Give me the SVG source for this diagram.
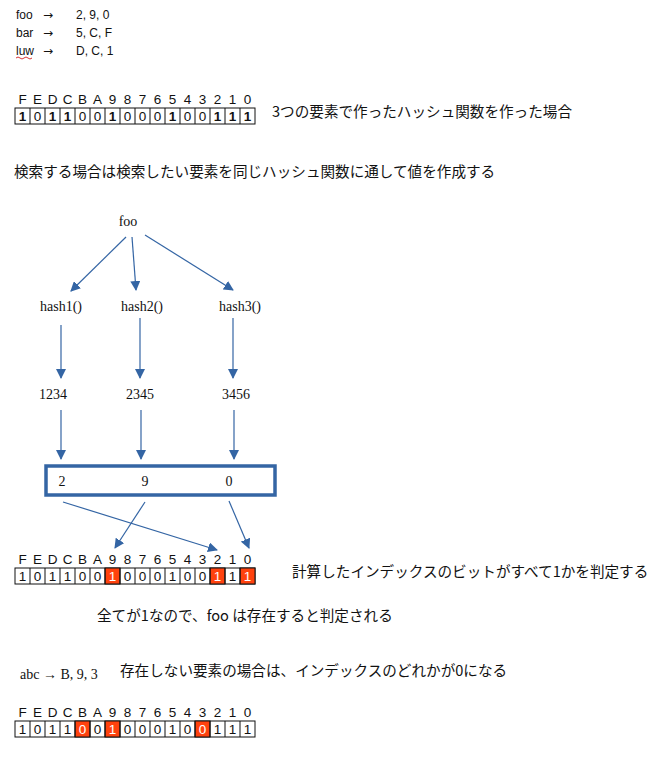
<svg xmlns="http://www.w3.org/2000/svg" width="671" height="757" viewBox="0 0 671 757">
<style>
.s{font-family:"Liberation Sans",Arial,sans-serif;font-size:12px;fill:#111}
.ar{font-family:"DejaVu Sans",sans-serif;font-size:12px;fill:#111}
.j{font-family:"Noto Sans CJK JP",sans-serif;font-size:14.6px;fill:#111}
.r{font-family:"Liberation Serif","Times New Roman",serif;font-size:14px;fill:#111}
.rm{font-family:"Liberation Serif","Times New Roman",serif;font-size:14px;fill:#111;text-anchor:middle}
.c{fill:#fff;stroke:#111;stroke-width:1}
.red{fill:#ff420e;stroke:#111;stroke-width:1}
.ln{stroke:#3465a4;stroke-width:1.2;fill:none;marker-end:url(#a)}
.w{fill:#fff}
</style>
<defs><marker id="a" markerWidth="10" markerHeight="10" refX="9" refY="5" orient="auto" markerUnits="userSpaceOnUse"><path d="M0,0 L10,5 L0,10 z" fill="#3465a4"/></marker></defs>
<g id="mapping">
<text class="s" x="16" y="19">foo</text><text class="ar" x="43" y="19">→</text><text class="s" x="76" y="19">2, 9, 0</text>
<text class="s" x="16" y="37">bar</text><text class="ar" x="43" y="37">→</text><text class="s" x="76" y="37">5, C, F</text>
<text class="s" x="16" y="55">luw</text><text class="ar" x="43" y="55">→</text><text class="s" x="76" y="55">D, C, 1</text>
<path d="M16,58 q2,-2 4,0 t4,0 t4,0 t4,0" stroke="#c00" stroke-width="0.8" fill="none"/>
</g>
<g id="row1">
<g font-family="Liberation Sans,Arial,sans-serif" font-size="13.5" text-anchor="middle" fill="#111">
<text x="22.5" y="104">F</text><text x="37.5" y="104">E</text><text x="52.5" y="104">D</text><text x="67.5" y="104">C</text><text x="82.5" y="104">B</text><text x="97.5" y="104">A</text><text x="112.5" y="104">9</text><text x="127.5" y="104">8</text><text x="142.5" y="104">7</text><text x="157.5" y="104">6</text><text x="172.5" y="104">5</text><text x="187.5" y="104">4</text><text x="202.5" y="104">3</text><text x="217.5" y="104">2</text><text x="232.5" y="104">1</text><text x="247.5" y="104">0</text>
</g>
<rect class="c" x="15" y="108" width="240" height="16"/>
<path d="M30,108v16M45,108v16M60,108v16M75,108v16M90,108v16M105,108v16M120,108v16M135,108v16M150,108v16M165,108v16M180,108v16M195,108v16M210,108v16M225,108v16M240,108v16" stroke="#111"/>
<g font-family="Liberation Sans,Arial,sans-serif" font-size="13.5" text-anchor="middle" fill="#111">
<text x="22.5" y="121" font-weight="bold">1</text><text x="37.5" y="121">0</text><text x="52.5" y="121" font-weight="bold">1</text><text x="67.5" y="121" font-weight="bold">1</text><text x="82.5" y="121">0</text><text x="97.5" y="121">0</text><text x="112.5" y="121" font-weight="bold">1</text><text x="127.5" y="121">0</text><text x="142.5" y="121">0</text><text x="157.5" y="121">0</text><text x="172.5" y="121" font-weight="bold">1</text><text x="187.5" y="121">0</text><text x="202.5" y="121">0</text><text x="217.5" y="121" font-weight="bold">1</text><text x="232.5" y="121" font-weight="bold">1</text><text x="247.5" y="121" font-weight="bold">1</text>
</g>
<text class="j" x="272" y="117">3つの要素で作ったハッシュ関数を作った場合</text>
</g>
<text class="j" x="14" y="177">検索する場合は検索したい要素を同じハッシュ関数に通して値を作成する</text>
<g id="foo"><text class="rm" x="128" y="226">foo</text></g>
<g id="hash1"><text class="rm" x="61" y="311">hash1()</text></g>
<g id="hash2"><text class="rm" x="142" y="311">hash2()</text></g>
<g id="hash3"><text class="rm" x="240" y="311">hash3()</text></g>
<g id="v1"><text class="rm" x="53" y="399">1234</text></g>
<g id="v2"><text class="rm" x="140" y="399">2345</text></g>
<g id="v3"><text class="rm" x="236" y="399">3456</text></g>
<g id="box">
<rect x="46" y="466" width="229" height="29" fill="#fff" stroke="#3465a4" stroke-width="3.5"/>
<text class="rm" x="62" y="486">2</text><text class="rm" x="145" y="486">9</text><text class="rm" x="229" y="486">0</text>
</g>
<g id="connectors">
<line class="ln" x1="126" y1="237" x2="71" y2="291"/>
<line class="ln" x1="132" y1="237" x2="136" y2="290"/>
<line class="ln" x1="145" y1="235" x2="233" y2="290"/>
<line class="ln" x1="61" y1="325" x2="61" y2="378"/>
<line class="ln" x1="140" y1="318" x2="140" y2="378"/>
<line class="ln" x1="233" y1="318" x2="233" y2="378"/>
<line class="ln" x1="61" y1="410" x2="61" y2="459"/>
<line class="ln" x1="141" y1="410" x2="141" y2="459"/>
<line class="ln" x1="234" y1="410" x2="234" y2="459"/>
<line class="ln" x1="63" y1="502" x2="217" y2="550"/>
<line class="ln" x1="145" y1="502" x2="115" y2="548"/>
<line class="ln" x1="229" y1="501" x2="249" y2="548"/>
</g>
<g id="row2">
<g font-family="Liberation Sans,Arial,sans-serif" font-size="13.5" text-anchor="middle" fill="#111">
<text x="22.5" y="564">F</text><text x="37.5" y="564">E</text><text x="52.5" y="564">D</text><text x="67.5" y="564">C</text><text x="82.5" y="564">B</text><text x="97.5" y="564">A</text><text x="112.5" y="564">9</text><text x="127.5" y="564">8</text><text x="142.5" y="564">7</text><text x="157.5" y="564">6</text><text x="172.5" y="564">5</text><text x="187.5" y="564">4</text><text x="202.5" y="564">3</text><text x="217.5" y="564">2</text><text x="232.5" y="564">1</text><text x="247.5" y="564">0</text>
</g>
<rect class="c" x="15" y="568" width="240" height="16"/>
<rect class="red" x="105" y="568" width="15" height="16"/><rect class="red" x="210" y="568" width="15" height="16"/><rect class="red" x="240" y="568" width="15" height="16"/>
<path d="M30,568v16M45,568v16M60,568v16M75,568v16M90,568v16M105,568v16M120,568v16M135,568v16M150,568v16M165,568v16M180,568v16M195,568v16M210,568v16M225,568v16M240,568v16" stroke="#111"/>
<g font-family="Liberation Sans,Arial,sans-serif" font-size="13.5" text-anchor="middle" fill="#111">
<text x="22.5" y="581">1</text><text x="37.5" y="581">0</text><text x="52.5" y="581">1</text><text x="67.5" y="581">1</text><text x="82.5" y="581">0</text><text x="97.5" y="581">0</text><text class="w" x="112.5" y="581">1</text><text x="127.5" y="581">0</text><text x="142.5" y="581">0</text><text x="157.5" y="581">0</text><text x="172.5" y="581">1</text><text x="187.5" y="581">0</text><text x="202.5" y="581">0</text><text class="w" x="217.5" y="581">1</text><text x="232.5" y="581">1</text><text class="w" x="247.5" y="581">1</text>
</g>
<text class="j" x="292" y="577">計算したインデックスのビットがすべて1かを判定する</text>
</g>
<text class="j" x="97" y="621">全てが1なので、foo は存在すると判定される</text>
<text class="r" x="20" y="679">abc → B, 9, 3</text>
<text class="j" x="120" y="676">存在しない要素の場合は、インデックスのどれかが0になる</text>
<g id="row3">
<g font-family="Liberation Sans,Arial,sans-serif" font-size="13.5" text-anchor="middle" fill="#111">
<text x="22.5" y="717">F</text><text x="37.5" y="717">E</text><text x="52.5" y="717">D</text><text x="67.5" y="717">C</text><text x="82.5" y="717">B</text><text x="97.5" y="717">A</text><text x="112.5" y="717">9</text><text x="127.5" y="717">8</text><text x="142.5" y="717">7</text><text x="157.5" y="717">6</text><text x="172.5" y="717">5</text><text x="187.5" y="717">4</text><text x="202.5" y="717">3</text><text x="217.5" y="717">2</text><text x="232.5" y="717">1</text><text x="247.5" y="717">0</text>
</g>
<rect class="c" x="15" y="721" width="240" height="16"/>
<rect class="red" x="75" y="721" width="15" height="16"/><rect class="red" x="105" y="721" width="15" height="16"/><rect class="red" x="195" y="721" width="15" height="16"/>
<path d="M30,721v16M45,721v16M60,721v16M75,721v16M90,721v16M105,721v16M120,721v16M135,721v16M150,721v16M165,721v16M180,721v16M195,721v16M210,721v16M225,721v16M240,721v16" stroke="#111"/>
<g font-family="Liberation Sans,Arial,sans-serif" font-size="13.5" text-anchor="middle" fill="#111">
<text x="22.5" y="734">1</text><text x="37.5" y="734">0</text><text x="52.5" y="734">1</text><text x="67.5" y="734">1</text><text class="w" x="82.5" y="734">0</text><text x="97.5" y="734">0</text><text class="w" x="112.5" y="734">1</text><text x="127.5" y="734">0</text><text x="142.5" y="734">0</text><text x="157.5" y="734">0</text><text x="172.5" y="734">1</text><text x="187.5" y="734">0</text><text class="w" x="202.5" y="734">0</text><text x="217.5" y="734">1</text><text x="232.5" y="734">1</text><text x="247.5" y="734">1</text>
</g>
</g>
</svg>
